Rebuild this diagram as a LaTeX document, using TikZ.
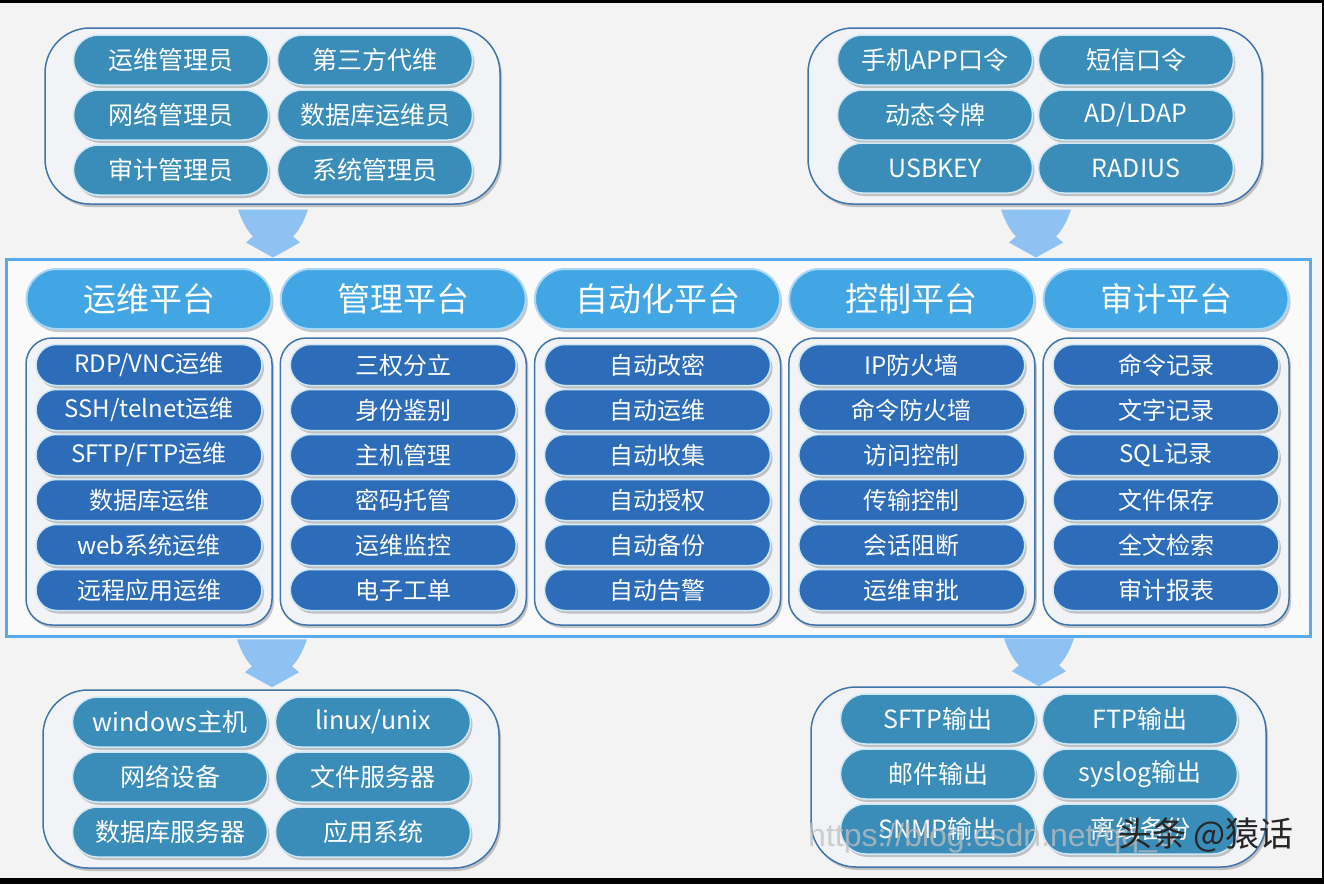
\documentclass[tikz,border=0pt]{standalone}
\usepackage{fontspec}
\setmainfont{Noto Sans CJK SC}
\newfontfamily\latinfont{Liberation Sans}
\usetikzlibrary{shapes.misc,shadows,calc}
\definecolor{bgc}{HTML}{F3F3F3}
\definecolor{tealc}{HTML}{3A8DB8}
\definecolor{headc}{HTML}{41A6E3}
\definecolor{headedge}{HTML}{A9D8F6}
\definecolor{subc}{HTML}{2C6CB8}
\definecolor{pilledge}{HTML}{CFE8F6}
\definecolor{grpedge}{HTML}{3F75AA}
\definecolor{grpfill}{HTML}{F1F3F6}
\definecolor{mainc}{HTML}{5AA9EB}
\definecolor{arrc}{HTML}{8DC2F3}
\tikzset{
  shad/.style={drop shadow={shadow xshift=2pt,shadow yshift=-3pt,opacity=0.3,fill=black!70}},
  toppill/.style={rounded rectangle,minimum width=195pt,minimum height=50pt,inner sep=0pt,
    fill=tealc,draw=pilledge,line width=1.5pt,text=white,font=\fontsize{25}{25}\selectfont,shad},
  headpill/.style={rounded rectangle,minimum width=245pt,minimum height=60pt,inner sep=0pt,
    fill=headc,draw=headedge,line width=2pt,text=white,font=\fontsize{33}{33}\selectfont,shad},
  subpill/.style={rounded rectangle,minimum width=226pt,minimum height=41pt,inner sep=0pt,
    fill=subc,draw=pilledge,line width=1.5pt,text=white,font=\fontsize{24}{24}\selectfont,shad},
  outgrp/.style={rectangle,rounded corners=45pt,draw=grpedge,line width=1.5pt,fill=grpfill,
    inner sep=0pt,shad},
  colgrp/.style={rectangle,rounded corners=26pt,draw=grpedge,line width=1.5pt,fill=grpfill,
    inner sep=0pt,minimum width=246pt,minimum height=287pt,shad},
  downarr/.pic={\fill[arrc] (-35,-48) -- (35,-48) .. controls (30,-33) and (24,-25) .. (20,-21)
     -- (27,-15) -- (0,0) -- (-27,-15) -- (-20,-21) .. controls (-24,-25) and (-30,-33) .. (-35,-48) -- cycle;}
}
\begin{document}
\begin{tikzpicture}[x=1pt,y=-1pt]
\useasboundingbox (0,0) rectangle (1324,884);
\fill[bgc] (0,0) rectangle (1324,884);

% ---------- top-left group
\node[outgrp,minimum width=455pt,minimum height=176pt] (tl) at (272.5,116) {};
\node[toppill] (tl11) at (171,60) {运维管理员};
\node[toppill] (tl12) at (375,60) {第三方代维};
\node[toppill] (tl21) at (171,115) {网络管理员};
\node[toppill] (tl22) at (375,115) {数据库运维员};
\node[toppill] (tl31) at (171,170) {审计管理员};
\node[toppill] (tl32) at (375,170) {系统管理员};

% ---------- top-right group
\node[outgrp,minimum width=454pt,minimum height=176pt] (tr) at (1035,116) {};
\node[toppill] (tr11) at (935,60) {手机APP口令};
\node[toppill] (tr12) at (1136,60) {短信口令};
\node[toppill] (tr21) at (935,115) {动态令牌};
\node[toppill] (tr22) at (1136,115) {AD/LDAP};
\node[toppill] (tr31) at (935,168) {USBKEY};
\node[toppill] (tr32) at (1136,168) {RADIUS};

% ---------- main container
\node[rectangle,draw=mainc,line width=3pt,fill=white!60!bgc,minimum width=1304pt,minimum height=377pt,inner sep=0pt] (main) at (658,447.5) {};

% columns
\foreach \i/\cx/\hd/\a/\b/\c/\d/\e/\f in {
  1/149/{运维平台}/{RDP/VNC运维}/{SSH/telnet运维}/{SFTP/FTP运维}/{数据库运维}/{web系统运维}/{远程应用运维},
  2/403.25/{管理平台}/{三权分立}/{身份鉴别}/{主机管理}/{密码托管}/{运维监控}/{电子工单},
  3/657.5/{自动化平台}/{自动改密}/{自动运维}/{自动收集}/{自动授权}/{自动备份}/{自动告警},
  4/911.75/{控制平台}/{IP防火墙}/{命令防火墙}/{访问控制}/{传输控制}/{会话阻断}/{运维审批},
  5/1166/{审计平台}/{命令记录}/{文字记录}/{SQL记录}/{文件保存}/{全文检索}/{审计报表}}{
  \node[headpill] (h\i) at (\cx,299) {\hd};
  \node[colgrp] (g\i) at (\cx,481.5) {};
  \node[subpill] (s\i a) at (\cx,365) {\a};
  \node[subpill] (s\i b) at (\cx,410) {\b};
  \node[subpill] (s\i c) at (\cx,455) {\c};
  \node[subpill] (s\i d) at (\cx,500) {\d};
  \node[subpill] (s\i e) at (\cx,545) {\e};
  \node[subpill] (s\i f) at (\cx,590) {\f};
}

% ---------- bottom-left group
\node[outgrp,minimum width=456pt,minimum height=178pt] (bl) at (271,779) {};
\node[toppill] (bl11) at (170,722) {windows主机};
\node[toppill] (bl12) at (373,722) {linux/unix};
\node[toppill] (bl21) at (170,777) {网络设备};
\node[toppill] (bl22) at (373,777) {文件服务器};
\node[toppill] (bl31) at (170,832) {数据库服务器};
\node[toppill] (bl32) at (373,832) {应用系统};

% ---------- bottom-right group
\node[outgrp,minimum width=455pt,minimum height=180pt] (br) at (1038.5,777) {};
\node[toppill] (br11) at (938,719) {SFTP输出};
\node[toppill] (br12) at (1140,719) {FTP输出};
\node[toppill] (br21) at (938,774) {邮件输出};
\node[toppill] (br22) at (1140,774) {syslog输出};
\node[toppill] (br31) at (938,829) {SNMP输出};
\node[toppill] (br32) at (1140,829) {离线备份};

% ---------- arrows
\coordinate (ax1) at (273,0);
\coordinate (ax2) at (1036,0);
\coordinate (ax3) at (272,0);
\coordinate (ax4) at (1039,0);
\path (main.north -| ax1) pic {downarr};
\path (main.north -| ax2) pic {downarr};
\path ($(bl.north -| ax3)+(0,-2)$) pic {downarr};
\path (br.north -| ax4) pic {downarr};

% ---------- watermarks
\node[anchor=west,inner sep=0pt,font=\latinfont\fontsize{32}{32}\selectfont,text=gray!50,opacity=0.75] (wm1) at (808,838) {https://blog.csdn.net/qq\_3};
\node[anchor=west,inner sep=0pt,font=\fontsize{34}{34}\selectfont,text=black!85] (wm2) at (1118,835) {头条 @猿话};

% ---------- black frame edges
\fill[black] (0,0) rectangle (1324,2.5);
\fill[black] (1321.5,0) rectangle (1324,884);
\fill[black] (0,878) rectangle (1324,884);
\end{tikzpicture}
\end{document}
